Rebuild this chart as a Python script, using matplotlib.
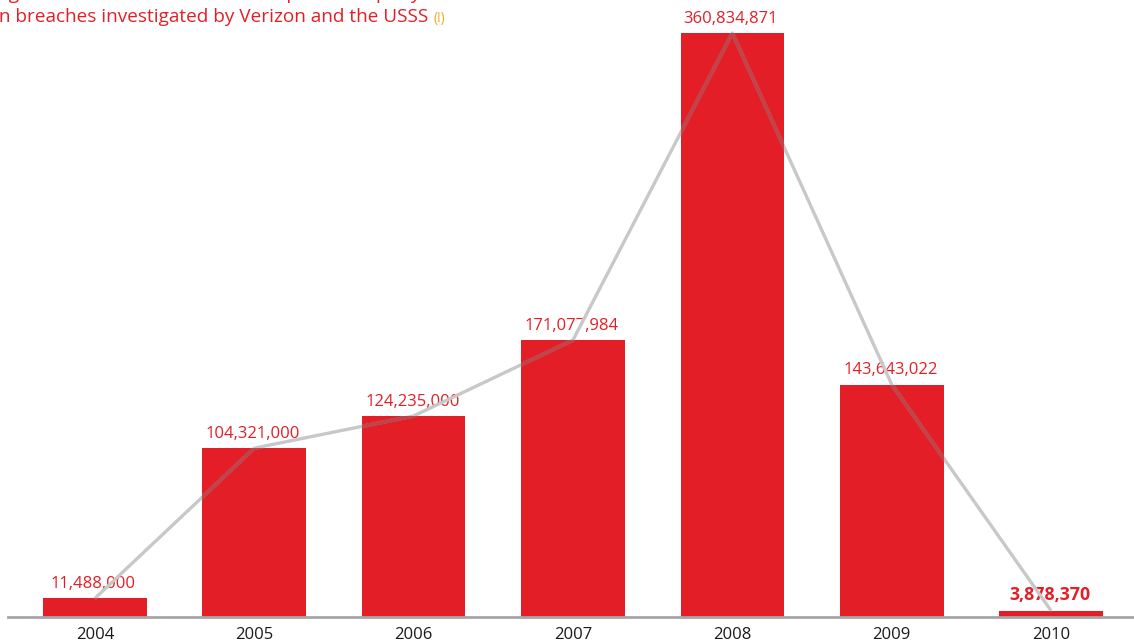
import matplotlib
matplotlib.use("Agg")
import matplotlib.pyplot as plt

plt.rcParams['font.family'] = ['Open Sans', 'DejaVu Sans']

years = ["2004", "2005", "2006", "2007", "2008", "2009", "2010"]
records = [11488000, 104321000, 124235000, 171077984, 360834871, 143643022, 3878370]
labels = ["11,488,000", "104,321,000", "124,235,000", "171,077,984",
          "360,834,871", "143,643,022", "3,878,370"]
title_line1 = "Figure 3. Number of records compromised per year"
title_line2 = "in breaches investigated by Verizon and the USSS"

RED = "#e41e26"
W, H = 1134, 643
fig = plt.figure(figsize=(W / 100, H / 100), dpi=100)
ax = fig.add_axes([8 / W, 26 / H, 1 - 8 / W, 617 / H])

x = list(range(len(years)))
bars = ax.bar(x, records, width=0.65, color=RED, zorder=2)

# trend line: light gray outside bars, muted red where over bars
ax.plot(x, records, color="#c8c8c8", lw=2.4, zorder=4, solid_capstyle="butt")
for b in bars:
    ln, = ax.plot(x, records, color="#c2444a", lw=3.0, zorder=5, solid_capstyle="butt")
    ln.set_clip_path(b)

for i, (v, lab) in enumerate(zip(records, labels)):
    last = i == len(years) - 1
    ax.annotate(lab, (i, v), xytext=(-1, 4.5), textcoords="offset points",
                ha="center", va="bottom", color=RED,
                fontsize=12.8 if last else 12,
                fontweight="bold" if last else "normal", zorder=3)

ax.set_xlim(-0.545, 6.52)
ax.set_ylim(0, 360834871 * 617 / 584)
ax.set_xticks(x)
ax.set_xticklabels(years, fontsize=12, color="#1a1a1a")
ax.tick_params(axis="x", length=0, pad=7)
ax.set_yticks([])
for s in ["top", "right", "left"]:
    ax.spines[s].set_visible(False)
ax.spines["bottom"].set_color("#a6a6a6")
ax.spines["bottom"].set_linewidth(2)
ax.spines["bottom"].set_zorder(6)

fig.text(-6 / W, 1 + 1 / H, title_line1, color=RED, fontsize=13.7,
         ha="left", va="baseline")
fig.text(-6 / W, 1 - 22 / H, title_line2, color=RED, fontsize=13.7,
         ha="left", va="baseline")
fig.text(433 / W, 1 - 22 / H, "(!)", color="#f5a623", fontsize=10,
         ha="left", va="baseline")

fig.savefig("out.png", dpi=100)
